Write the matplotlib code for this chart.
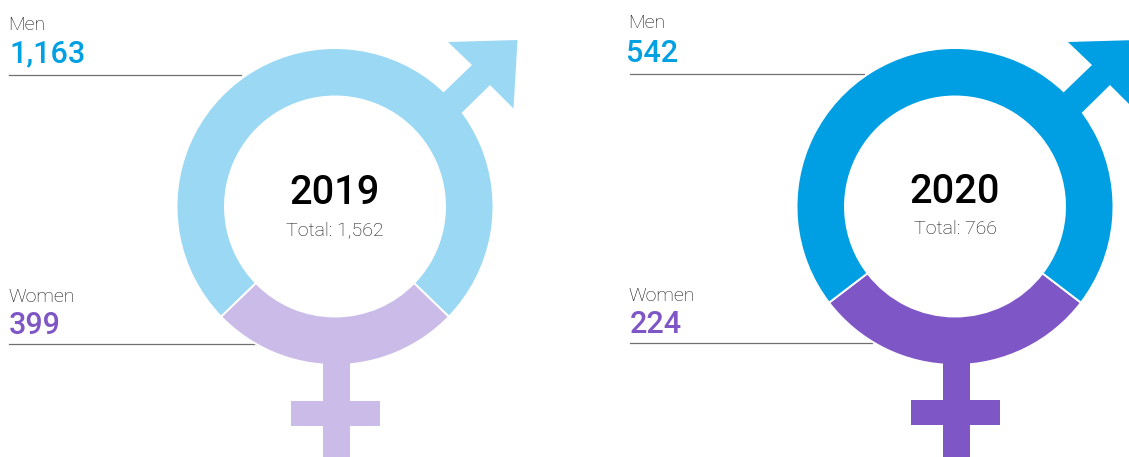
import matplotlib
matplotlib.use("Agg")
import matplotlib.pyplot as plt
from matplotlib.patches import Polygon, Rectangle

plt.rcParams["font.family"] = ["Roboto", "DejaVu Sans"]

years = [2019, 2020]
men = [1163, 542]
women = [399, 224]
totals = [1562, 766]
men_colors = ["#9BD8F4", "#009FE3"]
women_colors = ["#CBBBE8", "#7F56C5"]

MEN_TEXT = "#00A0E3"
WOMEN_TEXT = "#7F56C5"
H = 457

fig = plt.figure(figsize=(11.29, 4.57), dpi=100)
ax = fig.add_axes([0, 0, 1, 1])


def draw_panel(i, cx, left, men_end, women_end, dy, num_dx):
    cy = H - 206.5
    share = women[i] / (men[i] + women[i])

    # the two lines run behind the ring
    ax.plot([left, men_end], [H - 74.5 + dy] * 2, color="#707070", lw=0.9, zorder=1)
    ax.plot([left, women_end], [H - 344 + dy] * 2, color="#707070", lw=0.9, zorder=1)

    ax.pie(
        [women[i], men[i]],
        colors=[women_colors[i], men_colors[i]],
        center=(cx, cy),
        radius=158.5,
        startangle=270 - share * 180,
        wedgeprops={"width": 48.5, "edgecolor": "white", "linewidth": 1.4, "zorder": 2},
        frame=True,
    )

    # male arrow, offsets from the ring centre
    arrow = [(95, -100), (109, -114), (137, -141), (113, -164), (182.5, -166),
             (178.5, -97.5), (155, -121), (127.5, -94), (113, -80)]
    ax.add_patch(Polygon([(cx + x, H - 206 - y) for x, y in arrow],
                         closed=True, color=men_colors[i], lw=0, zorder=3))

    # female cross
    ax.add_patch(Rectangle((cx - 12, 0), 26.5, H - 345, color=women_colors[i], lw=0, zorder=3))
    ax.add_patch(Rectangle((cx - 44, H - 426 + dy), 89, 25.5, color=women_colors[i], lw=0, zorder=3))

    ax.text(left - 1, H - 29.5 + dy, "Men", fontsize=14, fontweight="light", color="#111111")
    ax.text(left + num_dx, H - 62.5 + dy, f"{men[i]:,}", fontsize=22, fontweight="medium", color=MEN_TEXT)
    ax.text(left - 1, H - 302 + dy, "Women", fontsize=14, fontweight="light", color="#111111")
    ax.text(left, H - 334 + dy, f"{women[i]:,}", fontsize=22, fontweight="medium", color=WOMEN_TEXT)
    ax.text(cx, H - 204 + dy, str(years[i]), fontsize=28.5, fontweight="medium", color="black", ha="center")
    ax.text(cx, H - 235 + dy, f"Total: {totals[i]:,}", fontsize=14, fontweight="light", color="#111111", ha="center")


draw_panel(0, 335, 9, 241, 256, 0, 0)
draw_panel(1, 955, 629.5, 864, 872, 1, -4)

ax.set_xlim(0, 1129)
ax.set_ylim(0, H)
ax.set_aspect("auto")
ax.axis("off")

plt.savefig("out.png", dpi=100)
